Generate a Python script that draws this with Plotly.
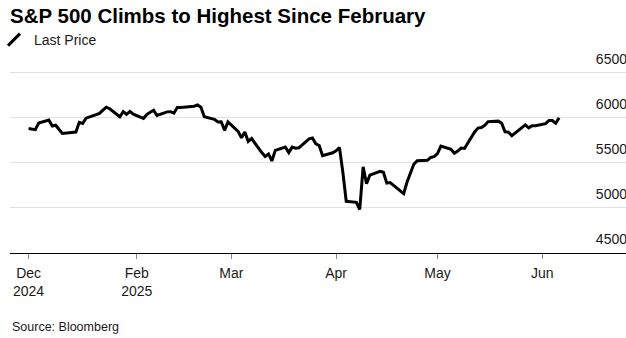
import plotly.graph_objects as go

dates = [
    "2024-12-31", "2025-01-02", "2025-01-03", "2025-01-06", "2025-01-07", "2025-01-08",
    "2025-01-10", "2025-01-13", "2025-01-14", "2025-01-15", "2025-01-16", "2025-01-17",
    "2025-01-21", "2025-01-22", "2025-01-23", "2025-01-24", "2025-01-27", "2025-01-28",
    "2025-01-29", "2025-01-30", "2025-01-31", "2025-02-03", "2025-02-04", "2025-02-05",
    "2025-02-06", "2025-02-07", "2025-02-10", "2025-02-11", "2025-02-12", "2025-02-13",
    "2025-02-14", "2025-02-18", "2025-02-19", "2025-02-20", "2025-02-21", "2025-02-24",
    "2025-02-25", "2025-02-26", "2025-02-27", "2025-02-28", "2025-03-03", "2025-03-04",
    "2025-03-05", "2025-03-06", "2025-03-07", "2025-03-10", "2025-03-11", "2025-03-12",
    "2025-03-13", "2025-03-14", "2025-03-17", "2025-03-18", "2025-03-19", "2025-03-20",
    "2025-03-21", "2025-03-24", "2025-03-25", "2025-03-26", "2025-03-27", "2025-03-28",
    "2025-03-31", "2025-04-01", "2025-04-02", "2025-04-03", "2025-04-04", "2025-04-07",
    "2025-04-08", "2025-04-09", "2025-04-10", "2025-04-11", "2025-04-14", "2025-04-15",
    "2025-04-16", "2025-04-17", "2025-04-21", "2025-04-22", "2025-04-23", "2025-04-24",
    "2025-04-25", "2025-04-28", "2025-04-29", "2025-04-30", "2025-05-01", "2025-05-02",
    "2025-05-05", "2025-05-06", "2025-05-07", "2025-05-08", "2025-05-09", "2025-05-12",
    "2025-05-13", "2025-05-14", "2025-05-15", "2025-05-16", "2025-05-19", "2025-05-20",
    "2025-05-21", "2025-05-22", "2025-05-23", "2025-05-27", "2025-05-28", "2025-05-29",
    "2025-05-30", "2025-06-02", "2025-06-03", "2025-06-04", "2025-06-05", "2025-06-06",
]

last_price = [
    5881.6, 5868.6, 5942.5, 5975.4, 5909.0, 5918.3,
    5827.0, 5836.2, 5842.9, 5949.9, 5937.3, 5996.7,
    6049.2, 6086.4, 6118.7, 6101.2, 6012.3, 6067.7,
    6039.3, 6071.2, 6040.5, 5994.6, 6037.9, 6061.5,
    6083.6, 6026.0, 6066.4, 6068.5, 6052.0, 6115.1,
    6114.6, 6129.6, 6144.2, 6117.5, 6013.1, 5983.3,
    5955.3, 5956.1, 5861.6, 5954.5, 5849.7, 5778.2,
    5842.6, 5738.5, 5770.2, 5614.6, 5572.1, 5599.3,
    5521.5, 5638.9, 5675.1, 5614.7, 5675.3, 5662.9,
    5667.6, 5767.6, 5776.7, 5712.2, 5693.3, 5580.9,
    5611.9, 5633.1, 5671.0, 5396.5, 5074.1, 5062.3,
    4982.8, 5456.9, 5268.1, 5363.4, 5406.0, 5396.6,
    5275.7, 5282.7, 5158.2, 5287.8, 5375.9, 5484.8,
    5525.2, 5528.8, 5560.8, 5569.1, 5604.1, 5686.7,
    5650.4, 5606.9, 5631.3, 5663.9, 5659.9, 5844.2,
    5886.6, 5892.6, 5916.9, 5958.4, 5963.6, 5940.5,
    5844.6, 5842.0, 5802.8, 5921.5, 5888.6, 5912.2,
    5911.7, 5935.9, 5970.4, 5970.8, 5939.3, 6000.4,
]

x_tick_dates = ["2024-12-31", "2025-02-01", "2025-03-01", "2025-04-01", "2025-05-01", "2025-06-01"]
x_tick_labels = ["Dec<br>2024", "Feb<br>2025", "Mar", "Apr", "May", "Jun"]
y_tick_values = [4500, 5000, 5500, 6000, 6500]
y_tick_labels = ["4500", "5000", "5500", "6000", "6500"]

series_name = "Last Price"
title_text = "S&P 500 Climbs to Highest Since February"
source_text = "Source: Bloomberg"

FONT = "Liberation Sans, Arial, sans-serif"

TOP, BOTTOM = 71, 85
PLOT_H = 338 - TOP - BOTTOM

fig = go.Figure()
fig.add_trace(go.Scatter(
    x=dates, y=last_price, mode="lines", name=series_name,
    line=dict(color="#000000", width=3), showlegend=False,
))
# legend entry with a slanted-stroke icon
fig.add_trace(go.Scatter(
    x=[None], y=[None], mode="markers", name=series_name,
    marker=dict(symbol="line-ne-open", size=12, color="#000000",
                line=dict(color="#000000", width=3)),
    showlegend=True, hoverinfo="skip",
))

fig.update_layout(
    template="none",
    width=626, height=338,
    margin=dict(l=10, r=0, t=TOP, b=BOTTOM, pad=0, autoexpand=False),
    paper_bgcolor="#ffffff", plot_bgcolor="#ffffff",
    font=dict(family=FONT, size=14, color="#1a1a1a"),
    title=dict(
        text="<b>" + title_text + "</b>",
        font=dict(family=FONT, size=20.5, color="#000000"),
        xref="container", x=10 / 626, xanchor="left",
        yref="container", y=1 - 16 / 338, yanchor="middle",
    ),
    showlegend=True,
    legend=dict(
        orientation="h", xref="paper", yref="container",
        x=-16 / 616, xanchor="left", y=1 - 40 / 338, yanchor="middle",
        font=dict(family=FONT, size=14, color="#1a1a1a"),
        bgcolor="rgba(0,0,0,0)", borderwidth=0,
        itemwidth=30,
    ),
    xaxis=dict(
        type="date", automargin=False,
        range=["2024-12-25 12:00", "2025-06-25 19:00"],
        tickmode="array", tickvals=x_tick_dates, ticktext=x_tick_labels,
        ticks="outside", ticklen=5, tickwidth=1, tickcolor="#888888",
        ticklabelstandoff=2,
        showline=True, linecolor="#000000", linewidth=1,
        showgrid=False, zeroline=False,
        tickfont=dict(family=FONT, size=14, color="#1a1a1a"),
        fixedrange=True,
    ),
    yaxis=dict(
        range=[4500, 6520], side="right", automargin=False,
        tickmode="array", tickvals=y_tick_values, ticktext=y_tick_labels,
        ticklabelposition="inside", ticklabelshift=-14, ticklabelstandoff=-4,
        ticklabeloverflow="allow",
        ticks="", showline=False, zeroline=False,
        showgrid=True, gridcolor="#e1e1e1", gridwidth=1,
        tickfont=dict(family=FONT, size=14, color="#1a1a1a"),
        fixedrange=True,
    ),
    annotations=[dict(
        text=source_text, xref="paper", yref="paper",
        x=0, xanchor="left", y=(338 - BOTTOM - 327) / PLOT_H, yanchor="middle",
        showarrow=False, font=dict(family=FONT, size=12.5, color="#1a1a1a"),
    )],
)

fig.write_html("out.html")
